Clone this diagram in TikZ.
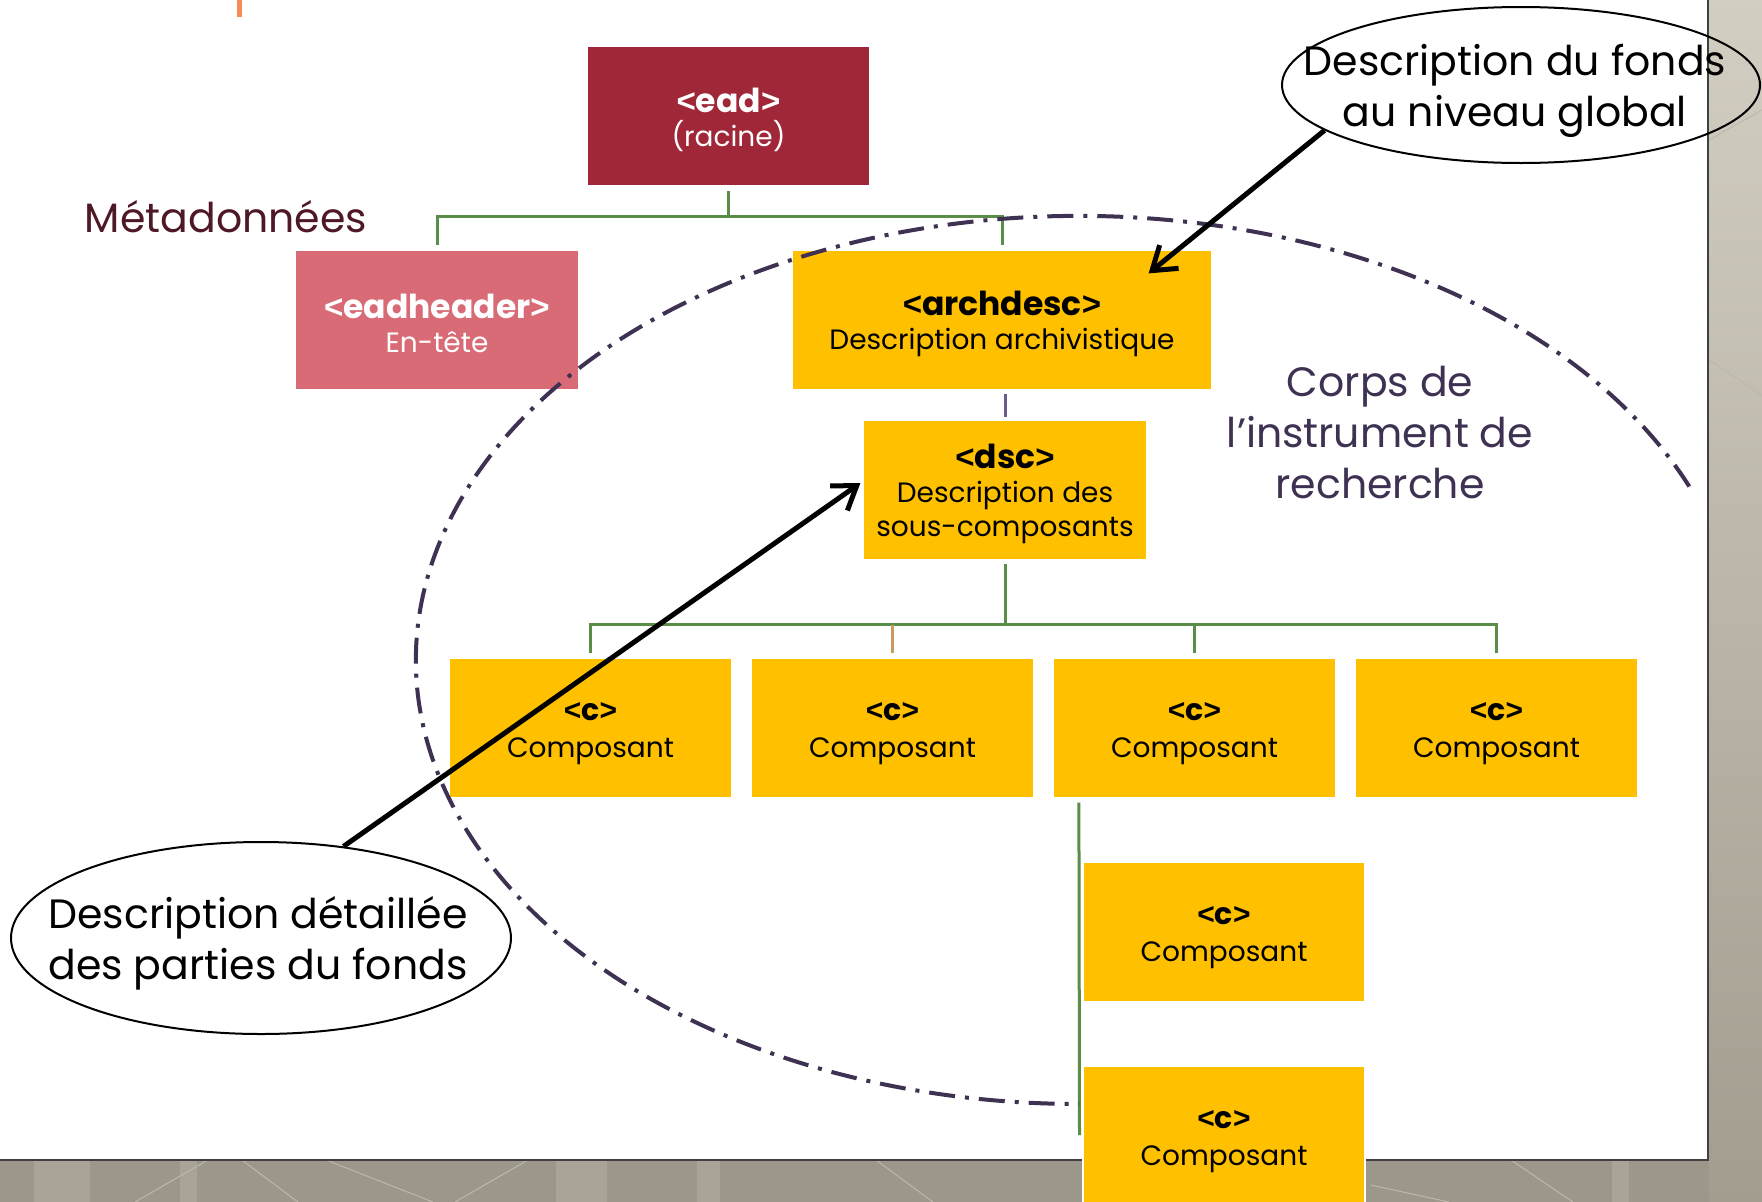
\documentclass[tikz,border=0pt]{standalone}
\usepackage{fontspec}
\setmainfont{Poppins}
\newfontfamily\brkfont{Liberation Sans}
\usetikzlibrary{shapes.geometric,arrows.meta}
\definecolor{eadred}{HTML}{9F2737}
\definecolor{hdrpink}{HTML}{D96B76}
\definecolor{boxyellow}{HTML}{FFC000}
\definecolor{lnkgreen}{HTML}{5A8D48}
\definecolor{lnktan}{HTML}{C89B5E}
\definecolor{lnkpurple}{HTML}{6B5A8C}
\definecolor{corpspurple}{HTML}{3F3152}
\definecolor{metamaroon}{HTML}{4E1824}
\definecolor{bggray}{HTML}{9D968A}
\definecolor{bglight}{HTML}{D3CEC2}
\definecolor{bgmid}{HTML}{A39D90}
\definecolor{bgband}{HTML}{AAA498}
\definecolor{bgline}{HTML}{BDB8AD}
\definecolor{tickorange}{HTML}{F58B58}
\newcommand\xmltag[3]{{\rule{0pt}{#3pt}\bfseries\fontsize{#1}{34}\selectfont{\brkfont\bfseries <}#2{\brkfont\bfseries >}}}
\begin{document}
\begin{tikzpicture}[x=1pt,y=-1pt,
  box/.style={rectangle, draw=white, line width=1.2pt, minimum width=283pt, minimum height=140pt,
    inner sep=0pt, align=center, font=\fontsize{28}{34}\selectfont},
  lnk/.style={draw=lnkgreen, line width=3pt},
  tanlnk/.style={draw=lnktan, line width=3pt},
  purplnk/.style={draw=lnkpurple, line width=3pt},
  bubble/.style={draw=black, ellipse, line width=2pt, inner sep=0pt},
  bigtext/.style={align=center, font=\fontsize{41}{51}\selectfont, inner sep=0pt},
  pointer/.style={draw=black, line width=5pt, -{Straight Barb[length=22pt,width=30pt]}},
  corps/.style={draw=corpspurple, line width=4pt, dash pattern=on 26pt off 10pt on 4pt off 10pt}
]
\useasboundingbox (0,0) rectangle (1762,1202);
% slide background
\fill[bggray] (0,0) rectangle (1762,1202);
\shade[top color=bglight, bottom color=bgmid] (1709,0) rectangle (1762,1202);
\foreach \a/\b in {34/90,180/197,556/607,697/720,1612/1629}
  \fill[bgband] (\a,1160) rectangle (\b,1202);
\foreach \p/\q in {{(208,1160)}/{(135,1202)},{(242,1160)}/{(298,1202)},{(326,1160)}/{(433,1202)},
  {(528,1160)}/{(455,1202)},{(876,1160)}/{(933,1202)},{(1511,1160)}/{(1573,1202)},{(1371,1185)}/{(1449,1202)},
  {(1709,140)}/{(1762,110)},{(1709,360)}/{(1762,395)}}
  \draw[bgline, line width=1pt] \p -- \q;
\fill[white] (0,0) rectangle (1707,1159);
\draw[black!75, line width=2.5pt] (1708.2,0) -- (1708.2,1160.2) -- (0,1160.2);
\fill[tickorange] (237,0) rectangle (242,17);

% boxes
\node[box, fill=eadred, text=white] (ead) at (728.5,116)
  {\xmltag{33}{ead}{32}\\(racine)};
\node[box, fill=hdrpink, text=white, minimum width=284pt] (eadheader) at (437,320)
  {\xmltag{33}{eadheader}{32}\\En-tête};
\node[box, fill=boxyellow, minimum width=420pt] (archdesc) at (1002,320)
  {\xmltag{33}{archdesc}{32}\\Description archivistique};
\node[box, fill=boxyellow, minimum width=284pt, minimum height=139pt] (dsc) at (1005,490)
  {\xmltag{33}{dsc}{33}\\Description des\\sous-composants};
\foreach \n/\x in {c1/590.5,c2/892.5,c3/1194.5,c4/1496.5}
  \node[box, fill=boxyellow] (\n) at (\x,728)
    {\xmltag{30}{c}{29}\\[3pt]Composant};
\node[box, fill=boxyellow, minimum width=282pt] (c5) at (1224,932)
  {\xmltag{30}{c}{29}\\[3pt]Composant};
\node[box, fill=boxyellow, minimum width=282pt] (c6) at (1224,1136)
  {\xmltag{30}{c}{29}\\[3pt]Composant};

% connectors
\coordinate (bus1) at (728.5,216.5);
\coordinate (bus2) at (1005,624.5);
\coordinate (hangend) at (1079.5,1135);
\draw[lnk] ([yshift=-4pt]ead.south) -- (bus1);
\draw[lnk] ([yshift=4pt]eadheader.north) |- (bus1) -| ([yshift=4pt]archdesc.north);
\draw[purplnk] ([yshift=-3pt]archdesc.south -| dsc.north) -- ([yshift=3pt]dsc.north);
\draw[lnk] ([yshift=-4pt]dsc.south) -- (bus2);
\draw[lnk] ([yshift=4pt]c1.north) |- (bus2);
\draw[lnk] ([yshift=4pt]c4.north) |- (bus2);
\draw[lnk] ([yshift=4pt]c3.north) -- (c3 |- bus2);
\draw[tanlnk] ([yshift=4pt]c2.north) -- (c2 |- bus2);
\draw[lnk] ([xshift=26.5pt,yshift=-4pt]c3.south west) -- (hangend);

% labels
\node[font=\fontsize{41}{46}\selectfont, text=metamaroon, anchor=base, inner sep=0pt] (meta) at (226,232) {Métadonnées};
\node[bigtext, text=corpspurple] (corpsl) at (1380,433) {Corps de\\l’instrument de\\recherche};

% dash-dot region
\draw[corps] (1689.3,486.5) arc[start angle=-23, end angle=-270, x radius=663, y radius=444];

% callouts
\node[bubble, minimum width=478pt, minimum height=156pt] (el1) at (1521,85) {};
\node[bigtext] (el1t) at (1515,91) {Description du fonds\\au niveau global};
\node[bubble, minimum width=500pt, minimum height=192pt] (el2) at (261,938) {};
\node[bigtext] (el2t) at (258,943) {Description détaillée\\des parties du fonds};
\draw[pointer] (el1.193) -- ([xshift=-64pt,yshift=-24pt]archdesc.north east);
\draw[pointer] (el2.48) -- ([xshift=-2pt,yshift=7pt]dsc.west);
\end{tikzpicture}
\end{document}
